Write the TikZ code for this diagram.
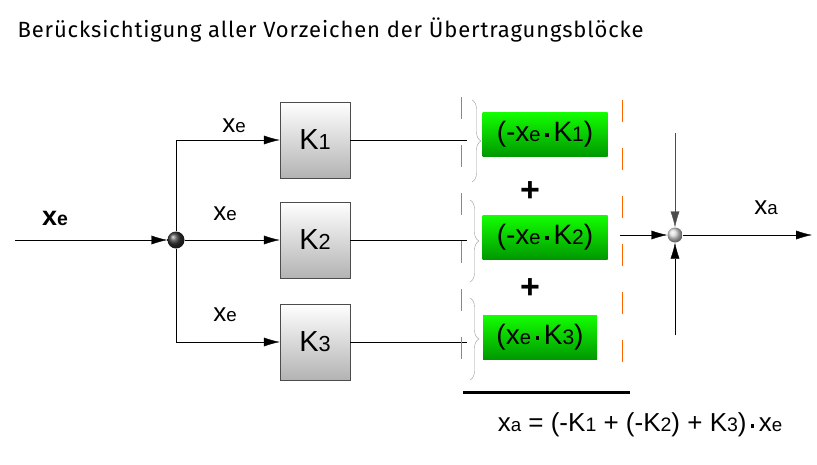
\documentclass[tikz,border=0pt]{standalone}
\usepackage{fontspec}
\setmainfont{Liberation Sans}
\newfontfamily\handfont[LetterSpace=4]{Fira Sans}
\usetikzlibrary{positioning,decorations.pathreplacing,shadings,arrows.meta}
\newcommand{\xsub}[2]{#1{\scalebox{0.72}{#2}}}
\newcommand{\bdot}{\,\raisebox{0.3ex}{\rule{3.5pt}{3.5pt}}\,}
\tikzset{
  kblock/.style={draw=black!70,top color=white,bottom color=black!30,minimum width=70pt,minimum height=76pt,font=\fontsize{29}{29}\selectfont},
  term/.style={top color=green!90!lime,bottom color=green!60!black,minimum height=44pt,minimum width=125pt,font=\fontsize{28}{28}\selectfont,inner xsep=4pt},
  lbl/.style={font=\fontsize{26}{26}\selectfont},
  sep/.style={orange!80!red,dash pattern=on 22pt off 26pt,thick},
  brc/.style={draw=black!40,decorate,decoration={brace,amplitude=9pt}},
}
\begin{document}
\begin{tikzpicture}[x=1pt,y=-1pt,>={Latex[length=16pt,width=9pt]}]
\useasboundingbox (0,0) rectangle (817,464);
\node[anchor=west,font=\handfont\fontsize{22}{22}\selectfont] (title) at (14,30) {Berücksichtigung aller Vorzeichen der Übertragungsblöcke};
% input and branching point
\coordinate (in) at (15,240);
\node[circle,inner sep=0pt,minimum size=17pt,ball color=black!80] (jn) at (176,240) {};
\node[font=\bfseries\fontsize{27}{27}\selectfont] (xin) at (55,218) {\xsub{x}{e}};
\draw[->] (in) -- (jn);
% blocks
\node[kblock] (k1) at (315,140) {K\scalebox{0.75}{1}};
\node[kblock] (k2) at (315,240) {K\scalebox{0.75}{2}};
\node[kblock] (k3) at (315,342) {K\scalebox{0.75}{3}};
\draw[->] (jn) -- (176,140) -- (k1.west);
\draw[->] (jn) -- (k2.west);
\draw[->] (jn) -- (176,342) -- (k3.west);
\node[lbl] (x1) at (234,126) {\xsub{x}{e}};
\node[lbl] (x2) at (225,214) {\xsub{x}{e}};
\node[lbl] (x3) at (225,315) {\xsub{x}{e}};
% outputs and braces
\coordinate (e1) at (467,140);
\coordinate (e2) at (467,240);
\coordinate (e3) at (467,342);
\draw (k1.east) -- (e1);
\draw (k2.east) -- (e2);
\draw (k3.east) -- (e3);
\draw[sep] (461,97) -- (461,385);
\draw[sep] (622,100) -- (622,385);
\draw[brc] (472,100) -- (472,182);
\draw[brc] (470,200) -- (470,282);
\draw[brc] (470,298) -- (470,380);
% terms
\node[term] (t1) at (545,134) {(-\xsub{x}{e}\bdot K\scalebox{0.75}{1})};
\node[term] (t2) at (545,237) {(-\xsub{x}{e}\bdot K\scalebox{0.75}{2})};
\node[term,minimum width=114pt] (t3) at (540,337) {(\xsub{x}{e}\bdot K\scalebox{0.75}{3})};
\node[font=\bfseries\fontsize{34}{34}\selectfont] (p1) at (530,192) {+};
\node[font=\bfseries\fontsize{34}{34}\selectfont] (p2) at (530,289) {+};
% summing point
\node[circle,inner sep=0pt,minimum size=15pt,ball color=black!15] (sum) at (675,235) {};
\coordinate (s0) at (620,235);
\coordinate (su) at (675,133);
\coordinate (sd) at (675,335);
\coordinate (out) at (812,235);
\draw[->] (s0) -- (sum);
\draw[->,black!70] (su) -- (sum);
\draw[->] (sd) -- (sum);
\draw[->] (sum) -- (out);
\node[lbl] (xa) at (766,208) {\xsub{x}{a}};
% result
\draw[line width=3pt] (463,392) -- (630,392);
\node[lbl] (res) at (640,425) {\xsub{x}{a} = (-K\scalebox{0.75}{1} + (-K\scalebox{0.75}{2}) + K\scalebox{0.75}{3})\bdot\xsub{x}{e}};
\end{tikzpicture}
\end{document}
